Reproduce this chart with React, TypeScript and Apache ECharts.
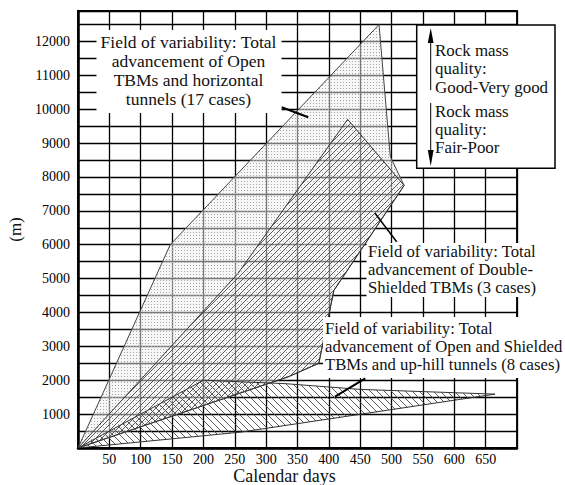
import React, { useEffect, useRef } from 'react';
import * as echarts from 'echarts';

// ---- data ----
const xLabelValues = [50, 100, 150, 200, 250, 300, 350, 400, 450, 500, 550, 600, 650];
const yLabelValues = [1000, 2000, 3000, 4000, 5000, 6000, 7000, 8000, 9000, 10000, 11000, 12000];

// Field of variability: Open TBMs and horizontal tunnels (17 cases) [days, m]
const openTbmField: number[][] = [
  [0, 0], [147, 6000], [480, 12500], [498, 8600], [520, 7750], [408, 4650], [384, 2500], [335, 2100],
];
// Field of variability: Double-Shielded TBMs (3 cases)
const doubleShieldedField: number[][] = [
  [0, 0], [255, 5150], [430, 9700], [520, 7750], [408, 4650], [384, 2500], [335, 2100],
];
// Field of variability: Open and Shielded TBMs, up-hill tunnels (8 cases)
const upHillField: number[][] = [
  [0, 0], [200, 2000], [330, 1900], [450, 1730], [665, 1590], [260, 470],
];

const noteOpen = ['Field of variability: Total', 'advancement of Open', 'TBMs and horizontal', 'tunnels (17 cases)'];
const noteDouble = ['Field of variability: Total', 'advancement of Double-', 'Shielded TBMs (3 cases)'];
const noteUpHill = ['Field of variability: Total', 'advancement of Open and Shielded', 'TBMs and up-hill tunnels (8 cases)'];
const legendGood = ['Rock mass', 'quality:', 'Good-Very good'];
const legendPoor = ['Rock mass', 'quality:', 'Fair-Poor'];

const FONT = '"Liberation Serif", "Times New Roman", serif';

function makeDots(): HTMLCanvasElement {
  const c = document.createElement('canvas');
  c.width = 3; c.height = 3;
  const ctx = c.getContext('2d')!;
  ctx.fillStyle = 'rgba(240,240,240,0.5)';
  ctx.fillRect(0, 0, 3, 3);
  ctx.fillStyle = '#a6a6a6';
  ctx.fillRect(1, 1, 1, 1);
  return c;
}

function makeHatch(size: number, forward: boolean): HTMLCanvasElement {
  const c = document.createElement('canvas');
  c.width = size; c.height = size;
  const ctx = c.getContext('2d')!;
  ctx.strokeStyle = '#4a4a4a';
  ctx.lineWidth = 0.9;
  ctx.beginPath();
  if (forward) {
    ctx.moveTo(0, size); ctx.lineTo(size, 0);
    ctx.moveTo(-2, 2); ctx.lineTo(2, -2);
    ctx.moveTo(size - 2, size + 2); ctx.lineTo(size + 2, size - 2);
  } else {
    ctx.moveTo(0, 0); ctx.lineTo(size, size);
    ctx.moveTo(-2, size - 2); ctx.lineTo(2, size + 2);
    ctx.moveTo(size - 2, -2); ctx.lineTo(size + 2, 2);
  }
  ctx.stroke();
  return c;
}

function polygonSeries(name: string, pts: number[][], fill: any, stroke: string) {
  return {
    type: 'custom',
    name,
    coordinateSystem: 'cartesian2d',
    silent: true,
    clip: true,
    data: pts,
    encode: { x: 0, y: 1 },
    renderItem: (params: any, api: any) => {
      if (params.dataIndex !== 0) return null;
      return {
        type: 'polygon',
        shape: { points: pts.map((p) => api.coord(p)) },
        style: { fill, stroke, lineWidth: 1 },
      };
    },
  };
}

function textEl(lines: string[], x: number, y: number, align: string, size: number, lh: number) {
  return {
    type: 'text',
    x,
    y,
    z: 102,
    silent: true,
    style: {
      text: lines.join('\n'),
      x: 0,
      y: 0,
      font: `${size}px ${FONT}`,
      fill: '#111',
      textAlign: align,
      textVerticalAlign: 'top',
      lineHeight: lh,
    },
  };
}

function whiteRect(x: number, y: number, w: number, h: number) {
  return { type: 'rect', z: 100, silent: true, shape: { x, y, width: w, height: h }, style: { fill: '#fff' } };
}

function leader(x1: number, y1: number, x2: number, y2: number, w: number) {
  return { type: 'line', z: 101, silent: true, shape: { x1, y1, x2, y2 }, style: { stroke: '#000', lineWidth: w } };
}

export default function App() {
  const ref = useRef<HTMLDivElement>(null);

  useEffect(() => {
    document.body.style.margin = '0';
    const chart = echarts.init(ref.current!, null, { renderer: 'svg' });
    const dots = { image: makeDots(), repeat: 'repeat' };
    const hatchFwd = { image: makeHatch(6, true), repeat: 'repeat' };
    const hatchBack = { image: makeHatch(7, false), repeat: 'repeat' };

    const option: any = {
      animation: false,
      backgroundColor: '#fff',
      grid: {
        left: 78, right: 48, top: 11, bottom: 37,
        show: true, borderColor: '#000', borderWidth: 1.8, backgroundColor: 'transparent',
        containLabel: false, outerBoundsMode: 'none',
      },
      xAxis: {
        type: 'value',
        min: 0, max: 700, interval: 50,
        name: 'Calendar days',
        nameLocation: 'middle',
        nameGap: 19,
        nameMoveOverlap: false,
        nameTextStyle: { fontFamily: FONT, fontSize: 18, color: '#111', padding: [0, 26, 0, 0] },
        axisLine: { show: true, onZero: false, lineStyle: { color: '#000', width: 2.5 } },
        axisTick: { show: false },
        axisLabel: {
          fontFamily: FONT, fontSize: 14, color: '#000', margin: 4,
          formatter: (v: number) => (xLabelValues.includes(v) ? String(v) : ''),
        },
        splitLine: { show: true, lineStyle: { color: '#000', width: 1.3 } },
      },
      yAxis: {
        type: 'value',
        min: 0, max: 12900, interval: 500,
        name: '(m)',
        nameLocation: 'middle',
        nameGap: 54,
        nameRotate: 90,
        nameMoveOverlap: false,
        nameTextStyle: { fontFamily: FONT, fontSize: 17, color: '#111' },
        axisLine: { show: true, onZero: false, lineStyle: { color: '#000', width: 2.5 } },
        axisTick: { show: false },
        axisLabel: {
          fontFamily: FONT, fontSize: 14, color: '#000', margin: 8,
          formatter: (v: number) => (yLabelValues.includes(v) ? String(v) : ''),
        },
        splitLine: { show: true, lineStyle: { color: '#000', width: 1.3 } },
      },
      series: [
        polygonSeries('Open TBMs', openTbmField, dots, '#444'),
        polygonSeries('Double-Shielded TBMs', doubleShieldedField, hatchFwd, '#333'),
        polygonSeries('Up-hill tunnels', upHillField, hatchBack, '#333'),
      ],
      graphic: [
        // annotation: open TBMs
        whiteRect(96.5, 30, 185, 83),
        textEl(noteOpen, 188.5, 32, 'center', 17.5, 19),
        leader(281.7, 107.3, 308.3, 117.3, 2),
        // annotation: double-shielded
        whiteRect(366.5, 243, 174, 54),
        textEl(noteDouble, 368, 243, 'left', 16.7, 17.8),
        leader(375, 213.3, 396.7, 241.7, 1.5),
        // annotation: up-hill
        whiteRect(323, 317, 242, 61),
        textEl(noteUpHill, 325, 319.5, 'left', 16.7, 17.9),
        leader(365.3, 378.3, 335, 396.7, 2),
        // legend box
        {
          type: 'rect', z: 100, silent: true,
          shape: { x: 416.7, y: 25, width: 138.3, height: 143.3 },
          style: { fill: '#fff', stroke: '#000', lineWidth: 1.5 },
        },
        leader(430.7, 40, 430.7, 90, 1),
        {
          type: 'polygon', z: 101, silent: true,
          shape: { points: [[430.7, 28], [427.8, 43], [433.6, 43]] },
          style: { fill: '#000' },
        },
        leader(430.7, 103, 430.7, 152, 1),
        {
          type: 'polygon', z: 101, silent: true,
          shape: { points: [[430.7, 166], [427.8, 150], [433.6, 150]] },
          style: { fill: '#000' },
        },
        textEl(legendGood, 435, 40.8, 'left', 16.9, 18.6),
        textEl(legendPoor, 435, 102.7, 'left', 16.9, 18),
      ],
    };
    chart.setOption(option);
    return () => chart.dispose();
  }, []);

  return <div ref={ref} style={{ width: 565, height: 485 }} />;
}
